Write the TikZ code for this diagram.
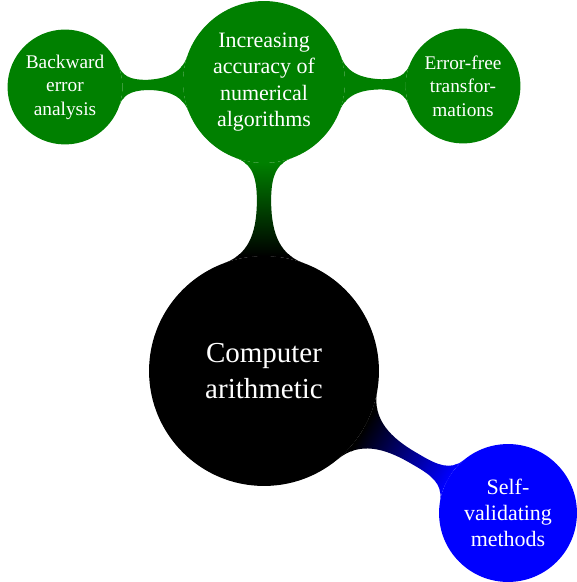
\documentclass[tikz,border=0pt]{standalone}
\usepackage[rgb]{xcolor}
\usepackage{fontspec}
\setmainfont{Liberation Serif}
\usetikzlibrary{mindmap}
\colorlet{mmgreen}{green!50!black}
\pgfdeclarelayer{background}
\pgfsetlayers{background,main}

\begin{document}
\begin{tikzpicture}[
  topic/.style={circle, fill=#1, draw=#1, line width=0.8pt, text=white,
    align=center, inner sep=0pt},
  rootbox/.style={topic=black, minimum size=4.57cm,
    font=\fontsize{16.5}{20.5}\selectfont},
  mainbox/.style={topic=#1, minimum size=3.21cm,
    font=\fontsize{12.5}{15}\selectfont},
  subbox/.style={topic=mmgreen, minimum size=2.27cm,
    font=\fontsize{11}{13.4}\selectfont},
  thickbar/.style={line width=0.3cm},
  thinbar/.style={line width=0.24cm}
]

\useasboundingbox (0,0) rectangle (11.52,-11.64);

% root and first level
\path
(5.28,-7.42) node[rootbox] (arith) {Computer\\arithmetic}
(5.28,-1.64) node[mainbox=mmgreen] (accuracy)
  {Increasing\\accuracy of\\numerical\\algorithms}
(10.16,-10.26) node[mainbox=blue, minimum size=2.73cm] (selfval)
  {Self-\\validating\\methods};

% second level
\path
(1.30,-1.74) node[subbox] (backward) {Backward\\error\\analysis}
(9.26,-1.72) node[subbox] (errfree) {Error-free\\transfor-\\mations};

% connection bars, kept behind the circles
\begin{pgfonlayer}{background}
\path (arith) to[circle connection bar switch color=from (black) to (mmgreen),
  thickbar] (accuracy);
\path (arith) to[circle connection bar switch color=from (black) to (blue),
  thickbar] (selfval);
\path (accuracy) to[circle connection bar switch color=from (mmgreen) to (mmgreen),
  thinbar] (backward);
\path (accuracy) to[circle connection bar switch color=from (mmgreen) to (mmgreen),
  thinbar] (errfree);
\end{pgfonlayer}

\end{tikzpicture}
\end{document}
